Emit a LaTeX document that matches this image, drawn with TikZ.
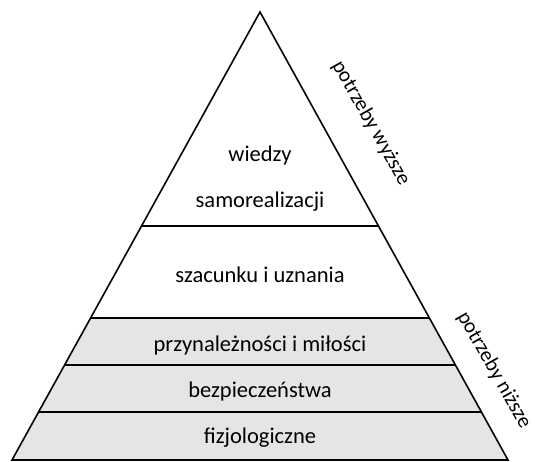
\documentclass[tikz,border=0pt]{standalone}
\usepackage{fontspec}
\setmainfont{Carlito}
\usetikzlibrary{calc}
\tikzset{
  layertext/.style={font=\fontsize{22.5}{27}\selectfont, anchor=center, inner sep=0pt},
  sidelabel/.style={font=\fontsize{21}{25}\selectfont, rotate=-60.5, inner sep=0pt},
  layerline/.style={line width=1.2pt},
  pyrline/.style={line width=1.6pt, line join=miter},
}
\begin{document}
\begin{tikzpicture}[x=1pt, y=-1pt]
  \useasboundingbox (0,0) rectangle (535,461);
  \coordinate (apex) at (260,12);
  \coordinate (bl) at (12,460);
  \coordinate (br) at (508,460);
  \fill[black!10] ($(apex)!0.683!(bl)$) -- ($(apex)!0.683!(br)$) -- (br) -- (bl) -- cycle;
  \foreach \t in {0.4777,0.683,0.7879,0.8929}
    \draw[layerline] ($(apex)!\t!(bl)$) -- ($(apex)!\t!(br)$);
  \draw[pyrline] (bl) -- (apex) -- (br) -- cycle;
  \node[layertext] (wiedzy) at (260,155) {wiedzy};
  \node[layertext] (samo) at (260,202) {samorealizacji};
  \node[layertext] (szac) at (260,275) {szacunku i uznania};
  \node[layertext] (przyn) at (260,345) {przynależności i miłości};
  \node[layertext] (bezp) at (260,391) {bezpieczeństwa};
  \node[layertext] (fizj) at (260,438) {fizjologiczne};
  \node[sidelabel] (wyzsze) at (371,123) {potrzeby wyższe};
  \node[sidelabel] (nizsze) at (494,370) {potrzeby niższe};
\end{tikzpicture}
\end{document}
